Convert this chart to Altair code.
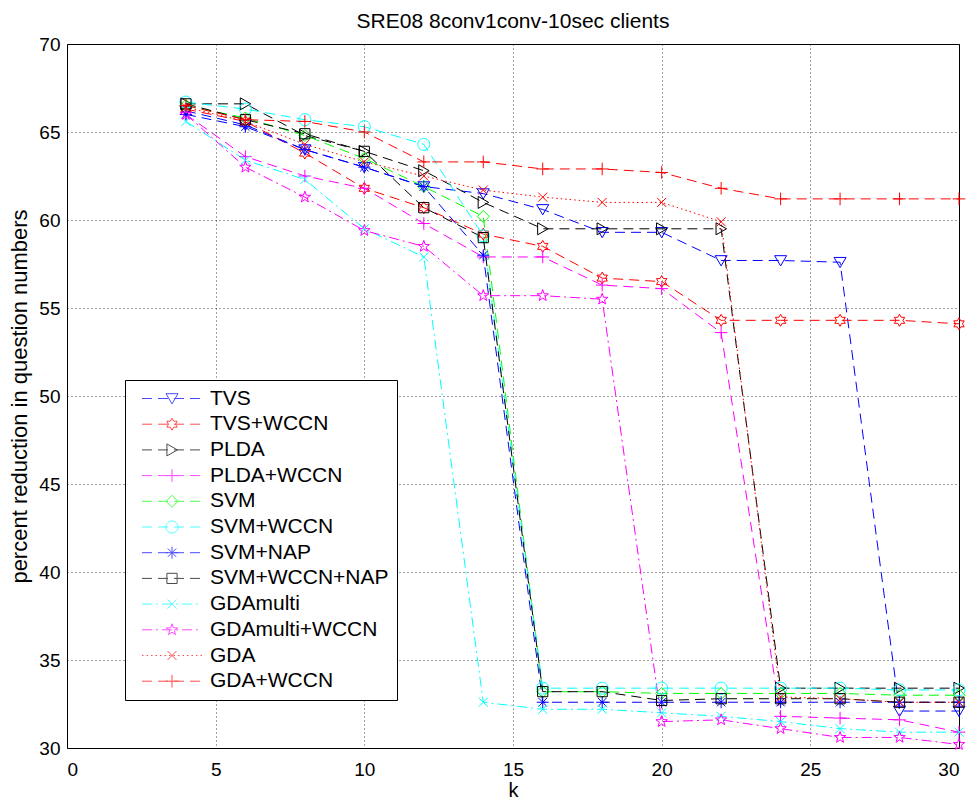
import math
import altair as alt
import pandas as pd

# ---------------- data ----------------
k = [4, 6, 8, 10, 12, 14, 16, 18, 20, 22, 24, 26, 28, 30]

series_names = ["TVS", "TVS+WCCN", "PLDA", "PLDA+WCCN", "SVM", "SVM+WCCN",
                "SVM+NAP", "SVM+WCCN+NAP", "GDAmulti", "GDAmulti+WCCN",
                "GDA", "GDA+WCCN"]

tvs = [66.2, 65.4, 64.0, 63.0, 61.9, 61.5, 60.6, 59.3, 59.3, 57.7, 57.7, 57.6, 32.1, 32.1]
tvs_wccn = [66.3, 65.6, 63.8, 61.8, 60.7, 59.2, 58.5, 56.7, 56.5, 54.3, 54.3, 54.3, 54.3, 54.1]
plda = [66.6, 66.6, 64.8, 63.9, 62.8, 61.0, 59.5, 59.5, 59.5, 59.5, 33.4, 33.4, 33.4, 33.4]
plda_wccn = [66.0, 63.6, 62.5, 61.8, 59.8, 57.9, 57.9, 56.3, 56.1, 53.6, 31.8, 31.7, 31.6, 30.9]
svm = [66.5, 65.8, 64.8, 63.5, 61.9, 60.2, 33.2, 33.2, 33.1, 33.1, 33.1, 33.1, 33.0, 33.0]
svm_wccn = [66.7, 66.3, 65.7, 65.3, 64.3, 59.1, 33.4, 33.4, 33.4, 33.4, 33.4, 33.4, 33.3, 33.3]
svm_nap = [66.0, 65.3, 64.0, 63.0, 61.9, 58.0, 32.6, 32.6, 32.6, 32.6, 32.6, 32.6, 32.6, 32.6]
svm_wccn_nap = [66.6, 65.7, 64.9, 63.9, 60.7, 59.0, 33.2, 33.2, 32.7, 32.8, 32.8, 32.8, 32.6, 32.6]
gdamulti = [65.6, 63.4, 62.3, 59.5, 57.9, 32.6, 32.2, 32.2, 32.0, 31.8, 31.5, 31.1, 30.9, 30.9]
gdamulti_wccn = [66.0, 63.0, 61.3, 59.4, 58.5, 55.7, 55.7, 55.5, 31.5, 31.6, 31.1, 30.6, 30.6, 30.2]
gda = [66.4, 65.6, 64.3, 63.3, 62.5, 61.7, 61.3, 61.0, 61.0, 59.9, 32.9, 32.8, 32.6, 32.6]
gda_wccn = [66.5, 65.7, 65.6, 65.0, 63.3, 63.3, 62.9, 62.9, 62.7, 61.8, 61.2, 61.2, 61.2, 61.2]

all_values = [tvs, tvs_wccn, plda, plda_wccn, svm, svm_wccn, svm_nap,
              svm_wccn_nap, gdamulti, gdamulti_wccn, gda, gda_wccn]

x_ticks = [0, 5, 10, 15, 20, 25, 30]
y_ticks = [30, 35, 40, 45, 50, 55, 60, 65, 70]

# ---------------- styles ----------------
colors = ["#0000ff", "#ff0000", "#000000", "#ff00ff", "#00ff00", "#00ffff",
          "#0000ff", "#000000", "#00ffff", "#ff00ff", "#ff0000", "#ff0000"]
line_styles = ["dash", "dash", "dash", "dash", "dash", "dash", "dash", "dash",
               "dashdot", "dashdot", "dot", "dash"]
markers = ["v", "hex", "rt", "plus", "diamond", "circle", "aster", "square",
           "x", "penta", "x", "plus"]
dash_px = {"dash": [10, 6], "dashdot": [10, 4, 2, 4], "dot": [1.5, 3]}


def f(v):
    return f"{v:.3f}".rstrip("0").rstrip(".")


def star(n, r_in, dx):
    pts = []
    for i in range(2 * n):
        r = 1.0 if i % 2 == 0 else r_in
        a = -math.pi / 2 + i * math.pi / n
        pts.append((dx + r * math.cos(a), r * math.sin(a)))
    return "M" + "L".join(f"{f(x)},{f(y)}" for x, y in pts) + "Z"


def marker_path(name, dx=0.0):
    def P(pts, close=True):
        s = "M" + "L".join(f"{f(x + dx)},{f(y)}" for x, y in pts)
        return s + ("Z" if close else "")
    if name == "v":
        return P([(-1, -0.8), (1, -0.8), (0, 0.9)])
    if name == "rt":
        return P([(-0.85, -1), (0.9, 0), (-0.85, 1)])
    if name == "square":
        return P([(-0.85, -0.85), (0.85, -0.85), (0.85, 0.85), (-0.85, 0.85)])
    if name == "diamond":
        return P([(0, -1), (1, 0), (0, 1), (-1, 0)])
    if name == "plus":
        return P([(-1.05, 0), (1.05, 0)], False) + P([(0, -1.05), (0, 1.05)], False)
    if name == "x":
        return P([(-0.75, -0.75), (0.75, 0.75)], False) + P([(-0.75, 0.75), (0.75, -0.75)], False)
    if name == "aster":
        return (P([(-1, 0), (1, 0)], False) + P([(0, -1), (0, 1)], False)
                + P([(-0.7, -0.7), (0.7, 0.7)], False) + P([(-0.7, 0.7), (0.7, -0.7)], False))
    if name == "circle":
        return (f"M{f(dx + 1)},0A1,1 0 1,1 {f(dx - 1)},0"
                f"A1,1 0 1,1 {f(dx + 1)},0Z")
    if name == "hex":
        return star(6, 0.577, dx)
    if name == "penta":
        return star(5, 0.4, dx)
    return ""


marker_paths = [marker_path(m) for m in markers]

# legend sample: dashed line segments + marker (path units: 6 px)
UNIT = 6.0
LINE_START, LINE_END, MARK_AT = -1.5, 58.5, 28.5   # px from symbol centre


def legend_path(style, mark):
    pat = dash_px[style]
    segs = []
    pos, i = LINE_START, 0
    while pos < LINE_END:
        length = pat[i % len(pat)]
        if i % 2 == 0:
            end = min(pos + length, LINE_END)
            segs.append(f"M{f(pos / UNIT)},0L{f(end / UNIT)},0")
        pos += length
        i += 1
    return "".join(segs) + marker_path(mark, MARK_AT / UNIT)


legend_paths = [legend_path(s, m) for s, m in zip(line_styles, markers)]

rows = []
for name, vals in zip(series_names, all_values):
    for kk, v in zip(k, vals):
        rows.append({"k": kk, "value": v, "series": name})
df = pd.DataFrame(rows)

FONT = "Liberation Sans"


def cscale():
    return alt.Scale(domain=series_names, range=colors)


x_enc = alt.X("k:Q", scale=alt.Scale(domain=[0, 30], nice=False),
              axis=alt.Axis(values=x_ticks, title="k", labelPadding=12,
                            titlePadding=1, titleFontSize=20))
y_enc = alt.Y("value:Q", scale=alt.Scale(domain=[30, 70], nice=False),
              axis=alt.Axis(values=y_ticks,
                            title="percent reduction in question numbers",
                            labelPadding=7, titlePadding=7, titleFontSize=22))

lines = alt.Chart(df).mark_line(strokeWidth=1).encode(
    x=x_enc, y=y_enc,
    color=alt.Color("series:N", scale=cscale(), legend=None),
    strokeDash=alt.StrokeDash("series:N",
                              scale=alt.Scale(domain=series_names,
                                              range=[dash_px[s] for s in line_styles]),
                              legend=None),
    detail="series:N",
)

points = alt.Chart(df).mark_point(filled=False, size=144, strokeWidth=1,
                                  opacity=1).encode(
    x=x_enc, y=y_enc,
    color=alt.Color("series:N", scale=cscale(), legend=None),
    shape=alt.Shape("series:N", scale=alt.Scale(domain=series_names,
                                                range=marker_paths),
                    legend=None),
)


def make_legend():
    return alt.Legend(
        title=None, orient="none", legendX=58, legendY=336,
        labelFont=FONT, labelFontSize=21, labelColor="black", labelLimit=400,
        symbolSize=144, symbolStrokeWidth=1, symbolFillColor="transparent",
        labelOffset=56, rowPadding=3.7, padding=8,
        fillColor="white", strokeColor="black",
    )


# legend-only layer: no marks drawn, only the legend (line sample + marker)
legend_layer = alt.Chart(df).transform_filter("false").mark_point(
    filled=False, size=144, strokeWidth=1).encode(
    x=x_enc, y=y_enc,
    color=alt.Color("series:N", scale=cscale(), legend=make_legend()),
    shape=alt.Shape("series:N", scale=alt.Scale(domain=series_names,
                                                range=legend_paths),
                    legend=make_legend()),
)

chart = alt.layer(lines, points, legend_layer).resolve_scale(
    color="independent", shape="independent", strokeDash="independent"
).properties(
    width=892, height=704,
    title=alt.TitleParams("SRE08 8conv1conv-10sec clients", font=FONT,
                          fontSize=21, fontWeight="normal", color="black",
                          offset=3),
    autosize=alt.AutoSizeParams(type="none"),
    padding={"left": 59, "top": 36, "right": 12, "bottom": 55},
).configure_view(stroke="black", strokeWidth=1).configure_axis(
    labelFont=FONT, titleFont=FONT, labelFontSize=19,
    titleFontWeight="normal", labelColor="black", titleColor="black",
    grid=True, gridColor="black", gridDash=[1, 3], gridOpacity=0.75,
    ticks=False, domain=False,
)

chart.save("out.html", embed_options={"renderer": "svg", "actions": False})
